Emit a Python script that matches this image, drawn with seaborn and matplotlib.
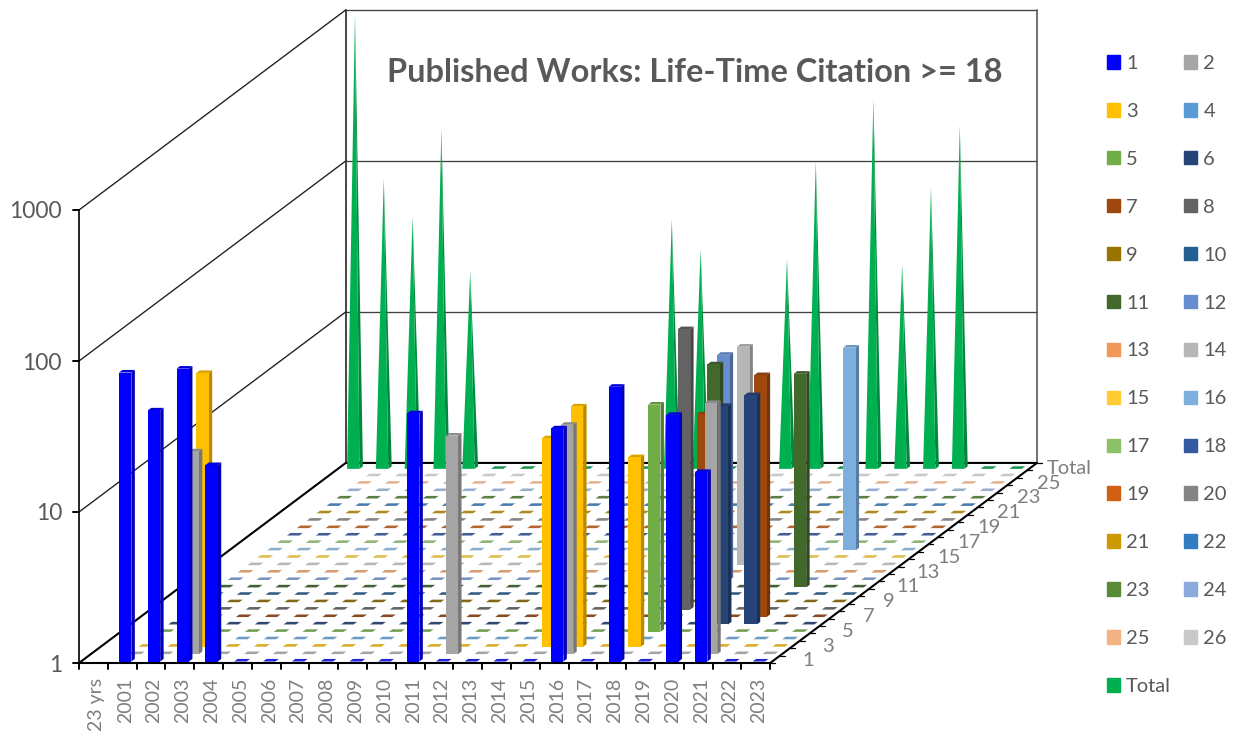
import numpy as np
import matplotlib
matplotlib.use("Agg")
import matplotlib.pyplot as plt
from matplotlib.colors import to_rgb
from matplotlib.patches import Patch
import seaborn as sns

# chart values
categories = ['23 yrs'] + [str(y) for y in range(2001, 2024)]
series_names = [str(i) for i in range(1, 27)] + ['Total']
value_ticks = [1, 10, 100, 1000]

s1 = {'2001': 82, '2002': 46, '2003': 87, '2004': 20, '2011': 44, '2016': 35, '2018': 66, '2020': 43, '2021': 18}
s2 = {'2003': 22, '2012': 28, '2016': 33, '2021': 46}
s3 = {'2003': 65, '2015': 24, '2016': 39, '2018': 18}
s5 = {'2018': 32}
s6 = {'2020': 28, '2021': 33}
s7 = {'2019': 22, '2021': 40}
s8 = {'2018': 72}
s11 = {'2018': 30, '2021': 26}
s12 = {'2018': 31}
s14 = {'2018': 28}
s16 = {'2021': 22}
total = {'23 yrs': 1000, '2001': 82, '2002': 46, '2003': 174, '2004': 20, '2011': 44, '2012': 28, '2015': 24,
         '2016': 107, '2018': 277, '2019': 22, '2020': 71, '2021': 185}
filled = {'1': s1, '2': s2, '3': s3, '5': s5, '6': s6, '7': s7, '8': s8, '11': s11, '12': s12,
          '14': s14, '16': s16, 'Total': total}

sns.set_theme(style="white")
plt.rcParams['font.family'] = ['Lato', 'DejaVu Sans']
colors = sns.color_palette(['#0000FF', '#A5A5A5', '#FFC000', '#5B9BD5', '#70AD47', '#264478', '#9E480E', '#636363',
                            '#997300', '#255E91', '#43682B', '#698ED0', '#F1975A', '#B7B7B7', '#FFCD33', '#7CAFDD',
                            '#8CC168', '#335AA1', '#D26012', '#848484', '#CC9A00', '#327DC2', '#5A8B39', '#8CAADB',
                            '#F4B183', '#C9C9C9', '#00B050'])

fig = plt.figure(figsize=(12.39, 7.38), dpi=100)
ax = fig.add_axes([0, 0, 1, 1])
ax.set_xlim(0, 1239)
ax.set_ylim(738, 0)
ax.axis('off')

n_cat = len(categories)
n_ser = len(series_names)


def project(cat, ser, value=1):
    # oblique view of the excel 3d chart: category, series depth, log value -> canvas
    x = 79 + 28.8 * cat + 9.88 * ser
    y = 663 - 7.41 * ser - 151 * np.log10(value)
    return x, y


def poly(points, color, z):
    xs, ys = zip(*points)
    ax.fill(xs, ys, color=color, lw=0, zorder=z)


def footprint(k, s, value=1):
    a = project(k + .32, s + .2, value)   # front left
    b = project(k + .75, s + .2, value)   # front right
    c = project(k + .75, s + .55, value)  # back right
    d = project(k + .32, s + .55, value)  # back left
    return a, b, c, d


def draw_bar(k, s, value, color, z):
    base = footprint(k, s)
    top = footprint(k, s, value)
    rgb = np.array(to_rgb(color))
    poly([base[1], base[2], top[2], top[1]], rgb * .72, z)
    poly(top, rgb * .85, z)
    poly([base[0], base[1], top[1], top[0]], rgb, z)


def draw_cone(k, s, value, color, z):
    base = footprint(k, s)
    tip = project(k + .535, s + .375, value)
    rgb = np.array(to_rgb(color))
    poly([base[1], base[2], tip], rgb * .78, z)
    poly([base[0], base[1], tip], rgb, z)


# walls
for v in value_ticks:
    front = project(0, 0, v)
    back = project(0, n_ser, v)
    right = project(n_cat, n_ser, v)
    if v > 1:
        ax.plot([front[0], back[0]], [front[1], back[1]], color='#1a1a1a', lw=.95, zorder=1)
        ax.plot([back[0], right[0]], [back[1], right[1]], color='#404040', lw=.95, zorder=1)
    ax.plot([front[0] - 6, front[0]], [front[1], front[1]], color='black', lw=1.4, zorder=1)
    ax.text(62, front[1] + 2, str(v), ha='right', va='center', fontsize=16.5, color='#595959')
for s_pos, c_pos, col in [(0, 0, 'black'), (n_ser, 0, '#262626'), (n_ser, n_cat, '#595959')]:
    lo = project(c_pos, s_pos, 1)
    hi = project(c_pos, s_pos, 1000)
    ax.plot([lo[0], hi[0]], [lo[1], hi[1]], color=col, lw=1.2, zorder=1)

# floor edges
corners = [project(0, 0), project(n_cat, 0), project(n_cat, n_ser), project(0, n_ser), project(0, 0)]
ax.plot(*zip(*corners), color='black', lw=1.5, zorder=2)

# ticks and labels on the two floor axes
for k in range(n_cat + 1):
    x, y = project(k, 0)
    ax.plot([x, x], [y, y + 6], color='black', lw=1.4, zorder=2)
for k, name in enumerate(categories):
    x, y = project(k + .5, 0)
    ax.text(x + 3, 678, name, rotation=90, ha='center', va='top', fontsize=14, color='#7f7f7f')
for s in range(n_ser + 1):
    x, y = project(n_cat, s)
    ax.plot([x, x + 5], [y, y], color='black', lw=.9, zorder=2)
for s, name in enumerate(series_names):
    if s % 2 == 0 or name == 'Total':
        x, y = project(n_cat, s + .5)
        ax.text(x + 33 + .15 * s, y + 1.7, name, ha='center', va='center', fontsize=14.5, color='#7f7f7f')

# empty cells show as flat coloured dashes on the floor
for s, name in enumerate(series_names):
    cells = filled.get(name, {})
    for k, cat in enumerate(categories):
        if k > 0 and cat not in cells:
            poly(footprint(k, s), sns.desaturate(colors[s], .7), 3)

# bars from back to front so nearer series overlap
for s in range(n_ser - 1, -1, -1):
    name = series_names[s]
    cells = filled.get(name, {})
    for k, cat in enumerate(categories):
        if cat in cells:
            if name == 'Total':
                draw_cone(k, s, cells[cat], colors[s], 10)
            else:
                draw_bar(k, s, cells[cat], colors[s], 10 + n_ser - s)

ax.text(695, 72, 'Published Works: Life-Time Citation >= 18', ha='center', va='center',
        fontsize=23.4, fontweight='bold', color='#595959')

# legend reads across in the reference, matplotlib fills columns
order = list(range(0, n_ser, 2)) + list(range(1, n_ser, 2))
handles = [Patch(color=colors[i], label=series_names[i]) for i in order]
ax.legend(handles=handles, ncol=2, loc='upper left', bbox_to_anchor=(1107 / 1239, 1 - 55 / 738), frameon=False,
          fontsize=14.5, labelcolor='#595959', handlelength=.65, handleheight=.65, handletextpad=.3,
          columnspacing=.65, labelspacing=1.535, borderpad=0, borderaxespad=0)

fig.savefig('out.png', dpi=100)
